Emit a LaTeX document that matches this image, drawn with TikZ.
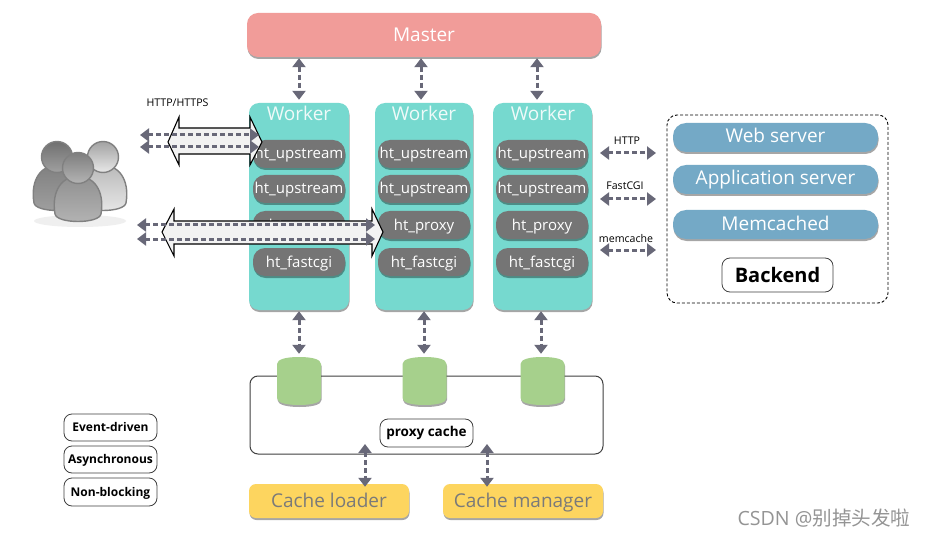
\documentclass[tikz,border=0pt]{standalone}
\usepackage{fontspec}
\setmainfont{Open Sans}
\newfontfamily\cjkf{Noto Sans CJK SC}
\usetikzlibrary{arrows.meta,shadows,calc}
\definecolor{salmon}{HTML}{F19C99}
\definecolor{teal1}{HTML}{76D9CF}
\definecolor{pillgrey}{HTML}{757575}
\definecolor{blue1}{HTML}{74A9C6}
\definecolor{green1}{HTML}{A6D08C}
\definecolor{yellow1}{HTML}{FDD55F}
\definecolor{arrowc}{HTML}{686878}
\definecolor{plight}{HTML}{E8E8E8}
\definecolor{pmid}{HTML}{A0A0A0}
\definecolor{pfront}{HTML}{B4B4B4}
\tikzset{
  softshadow/.style={drop shadow={shadow xshift=0.5pt,shadow yshift=-2pt,opacity=.35,fill=black}},
  box/.style={rectangle,rounded corners=#1,inner sep=0pt,softshadow},
  box/.default=9pt,
  masterbox/.style={box=11pt,fill=salmon,minimum width=354pt,minimum height=44pt,text=white,font=\fontsize{19}{21}\selectfont},
  workerbox/.style={box=10pt,fill=teal1,minimum height=207pt},
  workertitle/.style={text=white!88!teal1,font=\fontsize{19}{21}\selectfont,inner sep=0pt},
  pill/.style={box=12pt,fill=pillgrey,minimum width=92pt,minimum height=28pt,text=white,text height=12pt,text depth=2pt,font=\fontsize{15}{17}\selectfont},
  bluepill/.style={box=13pt,fill=blue1,minimum width=205pt,minimum height=29pt,text=white,text height=14.5pt,text depth=3.5pt,font=\fontsize{19}{21}\selectfont},
  cachecyl/.style={rectangle,inner sep=0pt,minimum width=44pt,minimum height=48pt},
  cylbody/.pic={
    \path[fill=green1,softshadow] (-22,-17) .. controls (-22,-22) and (-12,-24) .. (0,-24) .. controls (12,-24) and (22,-22) .. (22,-17) -- (22,17) .. controls (22,22) and (12,24) .. (0,24) .. controls (-12,24) and (-22,22) .. (-22,17) -- cycle;
  },
  yellowbox/.style={box=7pt,fill=yellow1,minimum width=160pt,minimum height=34pt,text=black!52,text height=15pt,text depth=3pt,font=\fontsize{19}{21}\selectfont},
  tagbox/.style={rectangle,rounded corners=8pt,draw=black!75,line width=.8pt,fill=white,inner sep=0pt,font=\bfseries\fontsize{12}{14}\selectfont},
  legendtag/.style={tagbox,minimum width=93pt,text height=10.3pt,text depth=2pt},
  smalllabel/.style={inner sep=0pt,font=\fontsize{10.6}{12}\selectfont},
  dblarrow/.style={draw=arrowc,line width=3pt,dash pattern=on 5pt off 3pt,{Triangle[width=13pt,length=9pt]}-{Triangle[width=13pt,length=9pt]}},
  fatarrow/.style={draw=black,line width=1.1pt,fill=black!5,line join=miter},
  personicon/.pic={
    \path[draw=black!50,line width=1.4pt,top color=#1!80!black,bottom color=#1] (-23,62) .. controls (-27,38) and (-15,24) .. (0,24) .. controls (15,24) and (27,38) .. (23,62) .. controls (21,72) and (-21,72) .. (-23,62) -- cycle;
    \path[draw=black!50,line width=1.4pt,top color=#1!70!black,bottom color=#1] (0,16) circle[radius=15.5];
  },
}
\begin{document}
\begin{tikzpicture}[x=1pt,y=-1pt]
\useasboundingbox[fill=white] (0,0) rectangle (925,537);

% Master
\node[masterbox] (master) at (424,35) {Master};

% Workers
\node[workerbox,minimum width=100pt] (w1) at (299,206.5) {};
\node[workerbox,minimum width=98pt] (w2) at (424,206.5) {};
\node[workerbox,minimum width=99pt] (w3) at (542.5,206.5) {};
\node[workertitle] (t1) at (299,113) {Worker};
\node[workertitle] (t2) at (424,113) {Worker};
\node[workertitle] (t3) at (543,113) {Worker};

\node[pill] (p11) at (299,154) {ht\_upstream};
\node[pill] (p12) at (299,189) {ht\_upstream};
\node[pill] (p13) at (299,225) {ht\_proxy};
\node[pill] (p14) at (299,262) {ht\_fastcgi};
\node[pill] (p21) at (424,154) {ht\_upstream};
\node[pill] (p22) at (424,189) {ht\_upstream};
\node[pill] (p23) at (424,225) {ht\_proxy};
\node[pill] (p24) at (424,262) {ht\_fastcgi};
\node[pill] (p31) at (542,154) {ht\_upstream};
\node[pill] (p32) at (542,189) {ht\_upstream};
\node[pill] (p33) at (542,225) {ht\_proxy};
\node[pill] (p34) at (542,262) {ht\_fastcgi};

% Backend
\node[rectangle,rounded corners=10pt,draw=black,line width=.9pt,dash pattern=on 3pt off 2pt,minimum width=221pt,minimum height=188pt] (backend) at (777.5,209) {};
\node[bluepill] (web) at (775.5,137.5) {Web server};
\node[bluepill] (app) at (775.5,179.5) {Application server};
\node[bluepill] (mem) at (775.5,224.5) {Memcached};
\node[tagbox,minimum width=111pt,minimum height=34pt,font=\bfseries\fontsize{20}{22}\selectfont] (bk) at (777.5,275) {Backend};

% Cache
\node[rectangle,rounded corners=8pt,draw=black!75,line width=1pt,fill=white,minimum width=353pt,minimum height=78pt] (cache) at (426.5,415) {};
\pic at (299,381) {cylbody};
\pic at (424.5,381) {cylbody};
\pic at (542.5,381) {cylbody};
\node[cachecyl] (c1) at (299,381) {};
\node[cachecyl] (c2) at (424.5,381) {};
\node[cachecyl] (c3) at (542.5,381) {};
\node[tagbox,minimum width=93pt,minimum height=28pt,text height=10.5pt,text depth=3pt,font=\bfseries\fontsize{13.5}{15}\selectfont] (pc) at (426.5,433) {proxy cache};
\node[yellowbox] (cl) at (329,501) {Cache loader};
\node[yellowbox] (cm) at (523,501) {Cache manager};

% Legend
\node[legendtag,minimum height=27pt] (l1) at (110.5,427.5) {Event-driven};
\node[legendtag,minimum height=27pt] (l2) at (110.5,459.5) {Asynchronous};
\node[legendtag,minimum height=28pt] (l3) at (110.5,492) {Non-blocking};

% Users icon
\fill[black!12,opacity=.5] (80,221) ellipse[x radius=46,y radius=6];
\pic at (103,141) {personicon=plight};
\pic at (57,141) {personicon=pmid};
\pic at (78,152) {personicon=pfront};

% Fat arrows
\coordinate (fa1) at (168,142);
\coordinate (fb1) at (262,142);
\path[fatarrow] (fa1) -- (179,117) -- (179,128) -- (250,128) -- (250,117) -- (fb1) -- (250,165) -- (250,154) -- (179,154) -- (179,165) -- cycle;
\coordinate (fa2) at (162,232);
\coordinate (fb2) at (383,232);
\path[fatarrow] (fa2) -- (174,209) -- (174,221) -- (372,221) -- (372,209) -- (fb2) -- (372,256) -- (372,244) -- (174,244) -- (174,256) -- cycle;

% Named ends
\coordinate (h1a) at (140,135); \coordinate (h1b) at (259,135);
\coordinate (h2a) at (140,147); \coordinate (h2b) at (259,147);
\coordinate (h3a) at (137,225); \coordinate (h3b) at (375,225);
\coordinate (h4a) at (137,239); \coordinate (h4b) at (375,239);
\coordinate (m1) at (299,0); \coordinate (m2) at (421,0); \coordinate (m3) at (537,0);
\coordinate (d1) at (299,0); \coordinate (d2) at (424,0); \coordinate (d3) at (541,0);
\coordinate (la) at (365,444); \coordinate (ma) at (487,444);
\coordinate (r1a) at (600,153); \coordinate (r1b) at (656,153);
\coordinate (r2a) at (600,199); \coordinate (r2b) at (656,199);
\coordinate (r3a) at (600,250); \coordinate (r3b) at (656,250);

\draw[dblarrow] (h1a) -- (h1b);
\draw[dblarrow] (h2a) -- (h2b);
\draw[dblarrow] (h3a) -- (h3b);
\draw[dblarrow] (h4a) -- (h4b);
\draw[dblarrow,shorten <=1pt,shorten >=3pt] (master.south -| m1) -- (w1.north -| m1);
\draw[dblarrow,shorten <=1pt,shorten >=3pt] (master.south -| m2) -- (w2.north -| m2);
\draw[dblarrow,shorten <=1pt,shorten >=3pt] (master.south -| m3) -- (w3.north -| m3);
\draw[dblarrow,shorten <=1pt,shorten >=3pt] (w1.south -| d1) -- (c1.north -| d1);
\draw[dblarrow,shorten <=1pt,shorten >=3pt] (w2.south -| d2) -- (c2.north -| d2);
\draw[dblarrow,shorten <=1pt,shorten >=3pt] (w3.south -| d3) -- (c3.north -| d3);
\draw[dblarrow,shorten >=-3pt] (la) -- (cl.north -| la);
\draw[dblarrow,shorten >=-3pt] (ma) -- (cm.north -| ma);
\draw[dblarrow] (r1a) -- (r1b);
\draw[dblarrow] (r2a) -- (r2b);
\draw[dblarrow] (r3a) -- (r3b);

% Labels
\node[smalllabel] (lh) at (177.5,103) {HTTP/HTTPS};
\node[smalllabel] (lh1) at (627,141) {HTTP};
\node[smalllabel] (lh2) at (625,186) {FastCGI};
\node[smalllabel] (lh3) at (626,239) {memcache};

% Watermark
\node[inner sep=0pt,text=black!42,font=\fontsize{19.6}{21}\selectfont] (wm) at (824,518) {CSDN @{\cjkf 别掉头发啦}};
\end{tikzpicture}
\end{document}
